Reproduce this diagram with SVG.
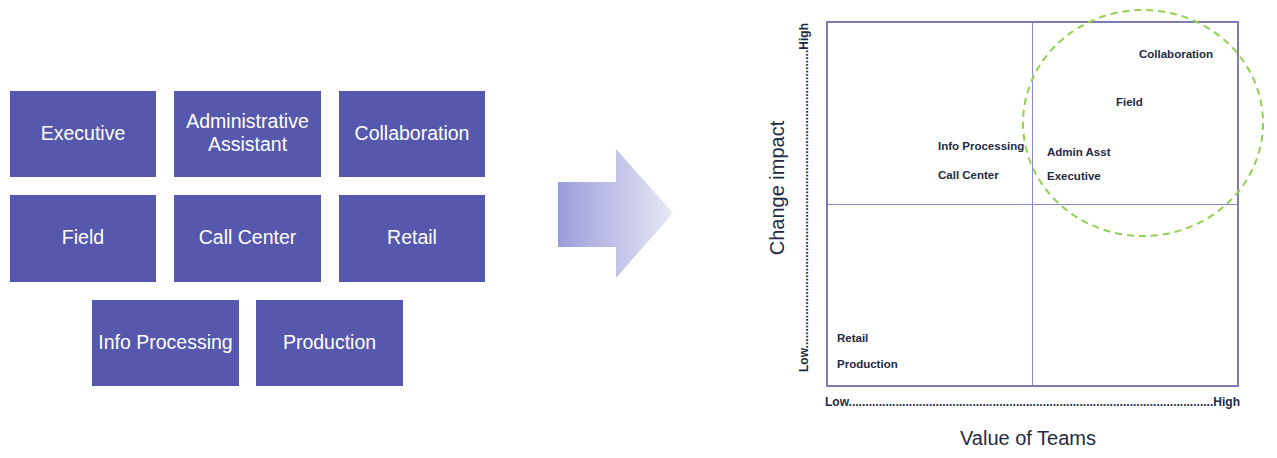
<svg xmlns="http://www.w3.org/2000/svg" width="1277" height="458" viewBox="0 0 1277 458">
<style>
.box{fill:#5558AD;}
.bt{font-family:"Liberation Sans",Arial,sans-serif;font-size:19.5px;fill:#FFFFFF;text-anchor:middle;}
.lbl{font-family:"Liberation Sans",Arial,sans-serif;font-size:11.5px;font-weight:bold;fill:#1F2A44;}
.ax{font-family:"Liberation Sans",Arial,sans-serif;font-size:12px;font-weight:bold;fill:#1F2A44;}
.title{font-family:"Liberation Sans",Arial,sans-serif;font-size:20px;fill:#1F2A44;text-anchor:middle;}
.inner{stroke:#8A8AD4;stroke-width:1;fill:none;}
</style>
<defs>
<linearGradient id="ag" x1="0" y1="0" x2="1" y2="0">
<stop offset="0" stop-color="#9B9DD9"/>
<stop offset="1" stop-color="#E8E8F5"/>
</linearGradient>
</defs>
<rect width="1277" height="458" fill="#FFFFFF"/>

<g id="executive"><rect class="box" x="10" y="91" width="146" height="86"/><text class="bt" x="83" y="140">Executive</text></g>
<g id="admin"><rect class="box" x="174" y="91" width="147" height="86"/><text class="bt" x="247.5" y="128">Administrative</text><text class="bt" x="247.5" y="151">Assistant</text></g>
<g id="collaboration"><rect class="box" x="339" y="91" width="146" height="86"/><text class="bt" x="412" y="140">Collaboration</text></g>
<g id="field"><rect class="box" x="10" y="195" width="146" height="87"/><text class="bt" x="83" y="244">Field</text></g>
<g id="callcenter"><rect class="box" x="174" y="195" width="147" height="87"/><text class="bt" x="247.5" y="244">Call Center</text></g>
<g id="retail"><rect class="box" x="339" y="195" width="146" height="87"/><text class="bt" x="412" y="244">Retail</text></g>
<g id="infoprocessing"><rect class="box" x="92" y="300" width="147" height="86"/><text class="bt" x="165.5" y="349">Info Processing</text></g>
<g id="production"><rect class="box" x="256" y="300" width="147" height="86"/><text class="bt" x="329.5" y="349">Production</text></g>

<g id="arrow"><polygon points="558,182 616,182 616,149 673,213 616,278 616,247 558,247" fill="url(#ag)"/></g>

<g id="chart">
<line class="inner" x1="1032.5" y1="22" x2="1032.5" y2="386"/>
<line class="inner" x1="827" y1="204.5" x2="1238" y2="204.5"/>
<rect x="827" y="22" width="411" height="364" fill="none" stroke="#6E6EAA" stroke-width="1.8"/>
<ellipse cx="1143" cy="123" rx="120" ry="113" fill="none" stroke="#92D050" stroke-width="2" stroke-dasharray="7,5"/>
<text class="lbl" x="1139" y="58">Collaboration</text>
<text class="lbl" x="1116" y="106">Field</text>
<text class="lbl" x="938" y="150">Info Processing</text>
<text class="lbl" x="938" y="179">Call Center</text>
<text class="lbl" x="1047" y="156">Admin Asst</text>
<text class="lbl" x="1047" y="180">Executive</text>
<text class="lbl" x="837" y="342">Retail</text>
<text class="lbl" x="837" y="368">Production</text>
<text class="ax" x="825" y="406" textLength="415" lengthAdjust="spacing">Low.............................................................................................................High</text>
<text class="ax" transform="translate(808,372) rotate(-90)" x="0" y="0" textLength="349" lengthAdjust="spacing">Low.........................................................................................High</text>
<text class="title" x="1028" y="445">Value of Teams</text>
<text class="title" transform="translate(784,188) rotate(-90)" x="0" y="0">Change impact</text>
</g>
</svg>
